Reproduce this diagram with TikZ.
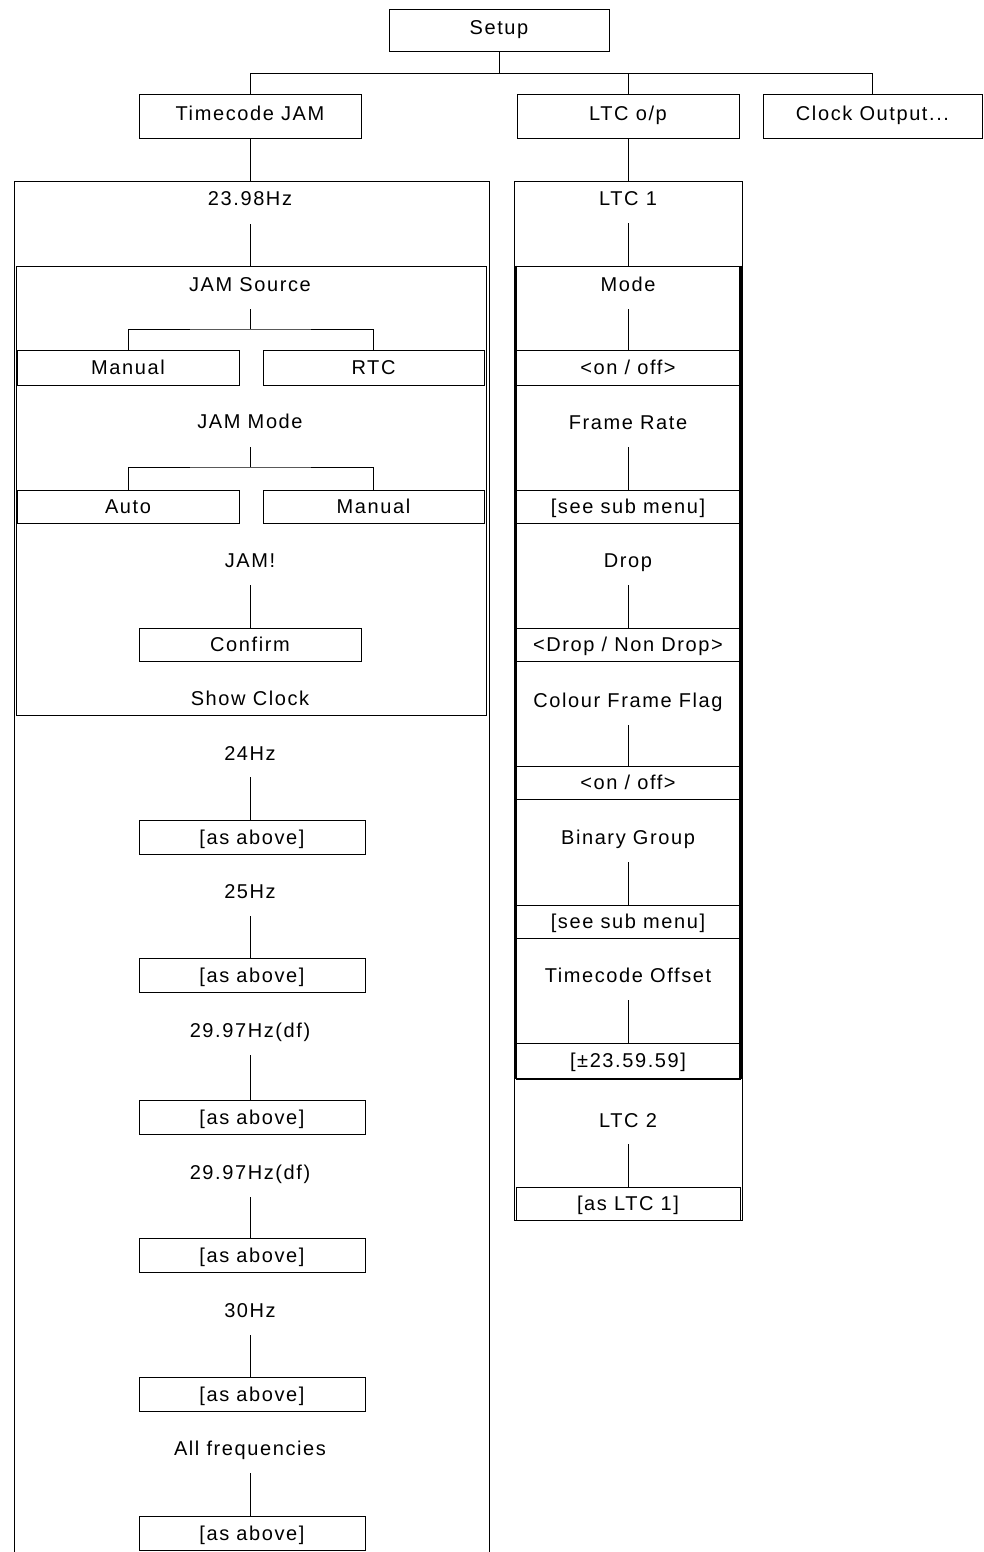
\documentclass[tikz,border=0pt]{standalone}
\usepackage{fontspec}
\setmainfont{Liberation Sans}[LetterSpace=8]
\newcommand\fs{\fontsize{20}{22}\selectfont}
\tikzset{
  lbl/.style={inner sep=0pt, text height=14.3pt, text depth=0pt, font=\fs},
  box/.style={draw, line width=1pt, inner sep=0pt, text height=14.3pt, text depth=0pt, font=\fs},
  topbox/.style={box, text depth=8pt},
  conn/.style={line width=1pt},
  frame/.style={draw, line width=1pt, inner sep=0pt},
}
\begin{document}
\begin{tikzpicture}[x=1pt,y=-1pt]
\useasboundingbox (0,0) rectangle (983,1552);
% top level
\node[topbox, minimum width=220pt, minimum height=42pt] (setup) at (499,31) {Setup};
\node[topbox, minimum width=222pt, minimum height=44pt] (tcjam) at (250,117) {Timecode JAM};
\node[topbox, minimum width=222pt, minimum height=44pt] (ltcop) at (628,117) {LTC o/p};
\node[topbox, minimum width=219pt, minimum height=44pt] (clock) at (872.5,117) {Clock Output...};
\draw[conn] (setup.south) -- ++(0,21) coordinate (bus);
\draw[conn] (tcjam.north) |- (bus) -| (clock.north);
\draw[conn] (ltcop.north) -- (ltcop.north |- bus);

% left frame
\coordinate (lftop) at (250,181);
\draw[conn] (14,1560) -- (14,181) -- (489,181) -- (489,1560);
\draw[conn] (tcjam.south) -- (lftop);
\node[lbl] (hz2398) at (250,198) {23.98Hz};
\node[frame, minimum width=470pt, minimum height=449pt] (jamfr) at (251,490.5) {};
\draw[conn] ([yshift=-26pt]hz2398.center) -- (hz2398.center |- jamfr.north);

\node[lbl] (jamsrc) at (250,284) {JAM Source};
\node[box, minimum width=222pt, minimum height=35pt] (manual1) at (128,367.5) {Manual};
\node[box, minimum width=221pt, minimum height=35pt] (rtc) at (373.5,367.5) {RTC};
\draw[conn] ([yshift=-25pt]jamsrc.center) -- ++(0,20) coordinate (b1);
\draw[conn] (manual1.north) |- (b1) -| (rtc.north);

\node[lbl] (jammode) at (250,421) {JAM Mode};
\node[box, minimum width=222pt, minimum height=33pt] (auto) at (128,506.5) {Auto};
\node[box, minimum width=221pt, minimum height=33pt] (manual2) at (373.5,506.5) {Manual};
\draw[conn] ([yshift=-26pt]jammode.center) -- ++(0,20) coordinate (b2);
\draw[conn] (auto.north) |- (b2) -| (manual2.north);

\node[lbl] (jam) at (250,560) {JAM!};
\node[box, minimum width=222pt, minimum height=33pt] (confirm) at (250,644.5) {Confirm};
\draw[conn] ([yshift=-25pt]jam.center) -- (confirm.north);
\node[lbl] (showclk) at (250,698) {Show Clock};

\node[lbl] (hz24) at (250,753) {24Hz};
\node[box, minimum width=226pt, minimum height=34pt] (as1) at (252,837) {[as above]};
\draw[conn] ([yshift=-24pt]hz24.center) -- (hz24.center |- as1.north);

\node[lbl] (hz25) at (250,891) {25Hz};
\node[box, minimum width=226pt, minimum height=34pt] (as2) at (252,975) {[as above]};
\draw[conn] ([yshift=-25pt]hz25.center) -- (hz25.center |- as2.north);

\node[lbl] (hz2997a) at (250,1030) {29.97Hz(df)};
\node[box, minimum width=226pt, minimum height=34pt] (as3) at (252,1117) {[as above]};
\draw[conn] ([yshift=-25pt]hz2997a.center) -- (hz2997a.center |- as3.north);

\node[lbl] (hz2997b) at (250,1172) {29.97Hz(df)};
\node[box, minimum width=226pt, minimum height=34pt] (as4) at (252,1255.5) {[as above]};
\draw[conn] ([yshift=-25pt]hz2997b.center) -- (hz2997b.center |- as4.north);

\node[lbl] (hz30) at (250,1310) {30Hz};
\node[box, minimum width=226pt, minimum height=34pt] (as5) at (252,1394.5) {[as above]};
\draw[conn] ([yshift=-25pt]hz30.center) -- (hz30.center |- as5.north);

\node[lbl] (allf) at (250,1448) {All frequencies};
\node[box, minimum width=226pt, minimum height=34pt] (as6) at (252,1533) {[as above]};
\draw[conn] ([yshift=-25pt]allf.center) -- (allf.center |- as6.north);

% right column
\node[frame, minimum width=228pt, minimum height=1039pt] (ltcfr) at (628,700.5) {};
\draw[conn] (ltcop.south) -- (ltcop.south |- ltcfr.north);
\node[lbl] (ltc1) at (628,198) {LTC 1};
\node[frame, minimum width=224pt, minimum height=812pt] (ltcin) at (628,672) {};
\draw[line width=3pt] (ltcin.north west) -- (ltcin.south west);
\draw[line width=3pt] (ltcin.north east) -- (ltcin.south east);
\draw[line width=2pt] (ltcin.south west) -- (ltcin.south east);
\draw[conn] ([yshift=-25pt]ltc1.center) -- (ltc1.center |- ltcin.north);

\node[lbl] (mode) at (628,284) {Mode};
\node[box, minimum width=224pt, minimum height=35pt] (onoff1) at (628,367.5) {<on / off>};
\draw[conn] ([yshift=-25pt]mode.center) -- (onoff1.north);

\node[lbl] (frate) at (628,422) {Frame Rate};
\node[box, minimum width=224pt, minimum height=33pt] (sub1) at (628,506.5) {[see sub menu]};
\draw[conn] ([yshift=-25pt]frate.center) -- (sub1.north);

\node[lbl] (drop) at (628,560) {Drop};
\node[box, minimum width=224pt, minimum height=33pt] (dropnd) at (628,644.5) {<Drop / Non Drop>};
\draw[conn] ([yshift=-25pt]drop.center) -- (dropnd.north);

\node[lbl] (cff) at (628,700) {Colour Frame Flag};
\node[box, minimum width=224pt, minimum height=33pt] (onoff2) at (628,782.5) {<on / off>};
\draw[conn] ([yshift=-25pt]cff.center) -- (onoff2.north);

\node[lbl] (bgrp) at (628,837) {Binary Group};
\node[box, minimum width=224pt, minimum height=33pt] (sub2) at (628,921.5) {[see sub menu]};
\draw[conn] ([yshift=-25pt]bgrp.center) -- (sub2.north);

\node[lbl] (tcoff) at (628,975) {Timecode Offset};
\node[box, minimum width=224pt, minimum height=35pt] (pm) at (628,1060.5) {[±23.59.59]};
\draw[conn] ([yshift=-25pt]tcoff.center) -- (pm.north);

\node[lbl] (ltc2) at (628,1120) {LTC 2};
\node[box, minimum width=224pt, minimum height=33pt] (asltc1) at (628,1203.5) {[as LTC 1]};
\draw[conn] ([yshift=-24pt]ltc2.center) -- (asltc1.north);
\end{tikzpicture}
\end{document}
